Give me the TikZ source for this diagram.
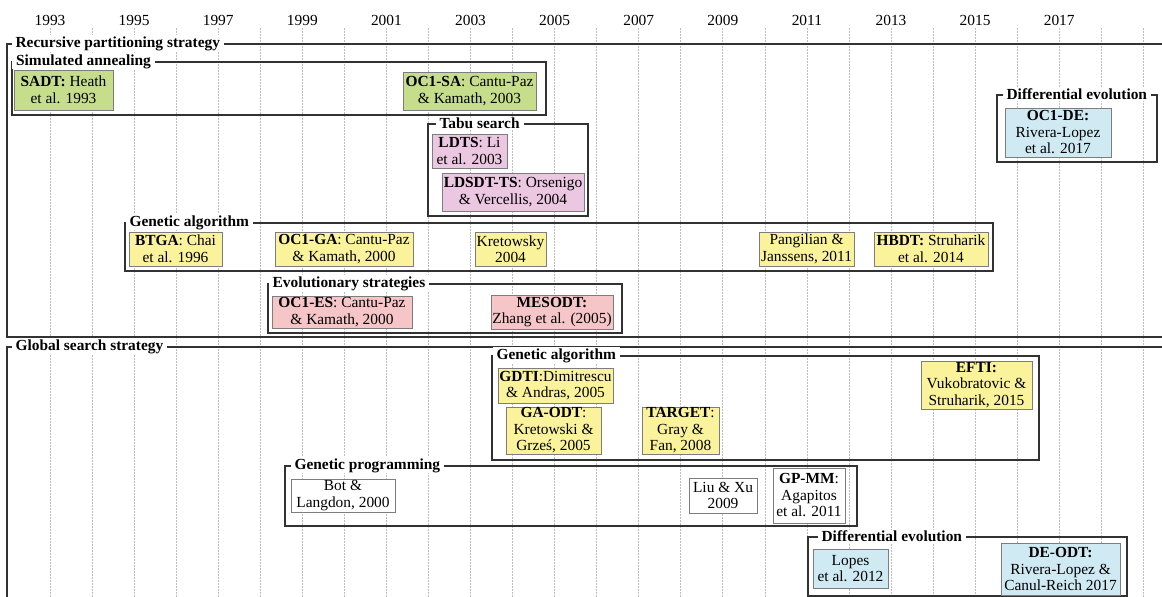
\documentclass[tikz,border=0pt]{standalone}
\usepackage{fontspec}
\setmainfont{Liberation Serif}
\definecolor{sagreen}{RGB}{198,222,140}
\definecolor{gayellow}{RGB}{250,243,155}
\definecolor{tabupink}{RGB}{236,199,226}
\definecolor{essalmon}{RGB}{246,197,200}
\definecolor{deblue}{RGB}{208,234,244}
\definecolor{boxgray}{RGB}{125,125,125}
\definecolor{framegray}{RGB}{50,50,50}
\definecolor{gridgray}{RGB}{190,190,190}
\begin{document}
\begin{tikzpicture}[x=1pt,y=-1pt,
  every node/.style={font=\fontsize{15.4}{16.5}\selectfont},
  gridline/.style={draw=gridgray,line width=0.7pt,dash pattern=on 1.5pt off 1.5pt},
  yearlabel/.style={inner sep=0pt},
  framebox/.style={draw=framegray,line width=1.2pt,inner sep=0pt},
  flabel/.style={fill=white,inner xsep=4pt,inner ysep=1pt,anchor=west,
    font=\fontsize{15.4}{16.5}\selectfont\bfseries},
  pub/.style={draw=boxgray,line width=0.8pt,inner sep=0pt,align=center},
  sa/.style={pub,fill=sagreen},
  ga/.style={pub,fill=gayellow},
  tabu/.style={pub,fill=tabupink},
  es/.style={pub,fill=essalmon},
  de/.style={pub,fill=deblue},
  gp/.style={pub,fill=white}]
\useasboundingbox (0,0) rectangle (1162,597);
\clip (0,0) rectangle (1162,597);

% yearly grid and year scale
\foreach \k in {0,...,26}
  \draw[gridline] ({50+42.05*\k},28) -- ({50+42.05*\k},597);
\foreach \yr in {1993,1995,...,2017}
  \node[yearlabel] (year\yr) at ({50+42.05*(\yr-1993)},20) {\yr};

% strategy and method frames
\node[framebox,minimum width=1193pt,minimum height=293pt] (fRP) at (603.5,190.5) {};
\node[flabel] (lRP) at ([xshift=5pt]fRP.north west) {Recursive partitioning strategy};
\node[framebox,minimum width=534pt,minimum height=53pt] (fSA) at (279,88.5) {};
\node[flabel] (lSA) at ([xshift=0.5pt]fSA.north west) {Simulated annealing};
\node[framebox,minimum width=160pt,minimum height=67pt] (fDEa) at (1077,128.5) {};
\node[flabel] (lDEa) at ([xshift=6pt]fDEa.north west) {Differential evolution};
\node[framebox,minimum width=160pt,minimum height=92pt] (fTS) at (508,170) {};
\node[flabel] (lTS) at ([xshift=8pt]fTS.north west) {Tabu search};
\node[framebox,minimum width=868pt,minimum height=48pt] (fGAa) at (559,247) {};
\node[flabel] (lGAa) at ([xshift=1pt]fGAa.north west) {Genetic algorithm};
\node[framebox,minimum width=354pt,minimum height=49pt] (fES) at (445,308.5) {};
\node[flabel] (lES) at ([xshift=1pt]fES.north west) {Evolutionary strategies};

\node[framebox,minimum width=1193pt,minimum height=293pt] (fGS) at (603.5,493.5) {};
\node[flabel] (lGS) at ([xshift=5pt]fGS.north west) {Global search strategy};
\node[framebox,minimum width=547pt,minimum height=104pt] (fGAb) at (765.5,408) {};
\node[flabel] (lGAb) at ([xshift=1pt]fGAb.north west) {Genetic algorithm};
\node[framebox,minimum width=572pt,minimum height=60pt] (fGP) at (571,496) {};
\node[flabel] (lGP) at ([xshift=6pt]fGP.north west) {Genetic programming};
\node[framebox,minimum width=319pt,minimum height=59pt] (fDEb) at (967.5,566.5) {};
\node[flabel] (lDEb) at ([xshift=10pt]fDEb.north west) {Differential evolution};

% publications: recursive partitioning
\node[sa,minimum width=99pt,minimum height=40pt] (sadt) at (63.5,90) {\textbf{SADT:} Heath\\et al. 1993};
\node[sa,minimum width=133pt,minimum height=38pt] (oc1sa) at (469.5,91) {\textbf{OC1-SA}: Cantu-Paz\\\& Kamath, 2003};
\node[de,minimum width=106pt,minimum height=49pt] (oc1de) at (1058,132.5) {\textbf{OC1-DE:}\\Rivera-Lopez\\et al. 2017};
\node[tabu,minimum width=75pt,minimum height=34pt] (ldts) at (469.5,151) {\textbf{LDTS}: Li\\et al. 2003};
\node[tabu,minimum width=142pt,minimum height=38pt] (ldsdtts) at (513,192) {\textbf{LDSDT-TS}: Orsenigo\\\& Vercellis, 2004};
\node[ga,minimum width=93pt,minimum height=34pt] (btga) at (175.5,249) {\textbf{BTGA}: Chai\\et al. 1996};
\node[ga,minimum width=138pt,minimum height=34pt] (oc1ga) at (344,249) {\textbf{OC1-GA}: Cantu-Paz\\\& Kamath, 2000};
\node[ga,minimum width=71pt,minimum height=34pt] (kret) at (510.5,249) {Kretowsky\\2004};
\node[ga,minimum width=95pt,minimum height=34pt] (pang) at (806.5,249) {Pangilian \&\\Janssens, 2011};
\node[ga,minimum width=114pt,minimum height=34pt] (hbdt) at (931,249) {\textbf{HBDT:} Struharik\\et al. 2014};
\node[es,minimum width=140pt,minimum height=32pt] (oc1es) at (342,312) {\textbf{OC1-ES}: Cantu-Paz\\\& Kamath, 2000};
\node[es,minimum width=122pt,minimum height=34pt] (mesodt) at (552,312) {\textbf{MESODT:}\\Zhang et al. (2005)};

% publications: global search
\node[ga,minimum width=115pt,minimum height=35pt] (gdti) at (555.5,385.5) {\textbf{GDTI}:Dimitrescu\\\& Andras, 2005};
\node[ga,minimum width=95pt,minimum height=47pt] (gaodt) at (553.5,430.5) {\textbf{GA-ODT}:\\Kretowski \&\\Grześ, 2005};
\node[ga,minimum width=77pt,minimum height=47pt] (target) at (680.5,430.5) {\textbf{TARGET}:\\Gray \&\\Fan, 2008};
\node[ga,minimum width=111pt,minimum height=48pt] (efti) at (976.5,385) {\textbf{EFTI:}\\Vukobratovic \&\\Struharik, 2015};
\node[gp,minimum width=104pt,minimum height=33pt] (bot) at (343,495.5) {Bot \&\\Langdon, 2000};
\node[gp,minimum width=68pt,minimum height=35pt] (liuxu) at (723,495.5) {Liu \& Xu\\2009};
\node[gp,minimum width=72pt,minimum height=55pt] (gpmm) at (809,495.5) {\textbf{GP-MM}:\\Agapitos\\et al. 2011};
\node[de,minimum width=75pt,minimum height=39pt] (lopes) at (850.5,568.5) {Lopes\\et al. 2012};
\node[de,minimum width=119pt,minimum height=52pt] (deodt) at (1060.5,569) {\textbf{DE-ODT:}\\Rivera-Lopez \&\\Canul-Reich 2017};
\end{tikzpicture}
\end{document}
